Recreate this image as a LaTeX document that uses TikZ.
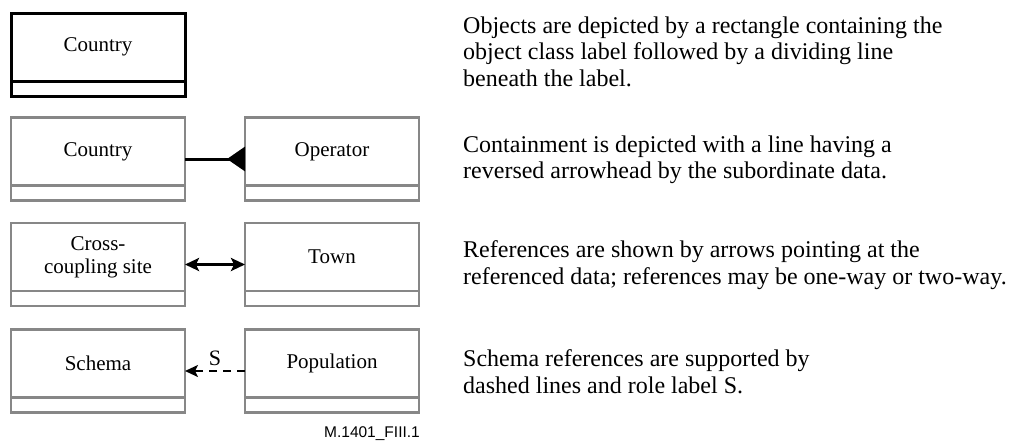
\documentclass[tikz,border=0pt]{standalone}
\usepackage{fontspec}
\setmainfont{Liberation Serif}
\newfontfamily\figsans{Liberation Sans}
\usetikzlibrary{positioning,arrows.meta}
\definecolor{framegray}{HTML}{878787}

\begin{document}
\begin{tikzpicture}[x=1pt,y=-1pt,
  objtop/.style={draw=framegray, line width=2.2pt, minimum width=174pt, minimum height=68pt,
    inner sep=0pt, outer sep=0pt, align=center, font=\fontsize{21}{23}\selectfont},
  objfoot/.style={draw=framegray, line width=2.2pt, minimum width=174pt, minimum height=15pt,
    inner sep=0pt, outer sep=0pt},
  blackframe/.style={draw=black, line width=3pt},
  note/.style={anchor=north west, inner sep=0pt, align=left, font=\fontsize{24}{26.5}\selectfont},
  link/.style={line width=3pt}
]
\useasboundingbox (0,0) rectangle (1009,442);

% object boxes: label part + empty part under the dividing line
\node[objtop, blackframe] (country1) at (98,47) {Country};
\node[objfoot, blackframe, below=0pt of country1] (country1foot) {};

\node[objtop] (country2) at (98,151.5) {Country};
\node[objfoot, below=0pt of country2] (country2foot) {};
\node[objtop, right=60pt of country2] (operator) {Operator};
\node[objfoot, below=0pt of operator] (operatorfoot) {};

\node[objtop, text depth=3pt] (site) at (98,257) {Cross-\\coupling site};
\node[objfoot, below=0pt of site] (sitefoot) {};
\node[objtop, right=60pt of site] (town) {Town};
\node[objfoot, below=0pt of town] (townfoot) {};

\node[objtop] (schema) at (98,363.5) {Schema};
\node[objfoot, below=0pt of schema] (schemafoot) {};
\node[objtop, right=60pt of schema] (population) {Population};
\node[objfoot, below=0pt of population] (populationfoot) {};

% links sit at the middle of the whole box
\draw[link, -{Triangle[reversed, length=18pt, width=24pt]}]
  ([yshift=-7.5pt]country2.east) -- ([yshift=-7.5pt]operator.west);
\draw[link, {Stealth[length=14pt, width=13pt, inset=3pt]}-{Stealth[length=14pt, width=13pt, inset=3pt]}]
  ([yshift=-7.5pt]site.east) -- ([yshift=-7.5pt]town.west);
\draw[line width=2.2pt, dash pattern=on 8pt off 6pt, -{Stealth[length=13pt, width=12pt, inset=3pt]}]
  ([yshift=-7.5pt]population.west) -- ([yshift=-7.5pt]schema.east)
  node[midway, above=4pt, inner sep=0pt, font=\fontsize{22}{24}\selectfont] (role) {S};

% explanations
\node[note] (objnote) at (463,16.5) {Objects are depicted by a rectangle containing the\\object class label followed by a dividing line\\beneath the label.};
\node[note] (contnote) at (463,135.5) {Containment is depicted with a line having a\\reversed arrowhead by the subordinate data.};
\node[note] (refnote) at (463,240.5) {References are shown by arrows pointing at the\\referenced data; references may be one-way or two-way.};
\node[note] (schemanote) at (463,349.5) {Schema references are supported by\\dashed lines and role label S.};

\node[anchor=base east, inner sep=0pt, font=\figsans\fontsize{15.5}{18}\selectfont] (figtag) at (420,437) {M.1401\_FIII.1};

\end{tikzpicture}
\end{document}
